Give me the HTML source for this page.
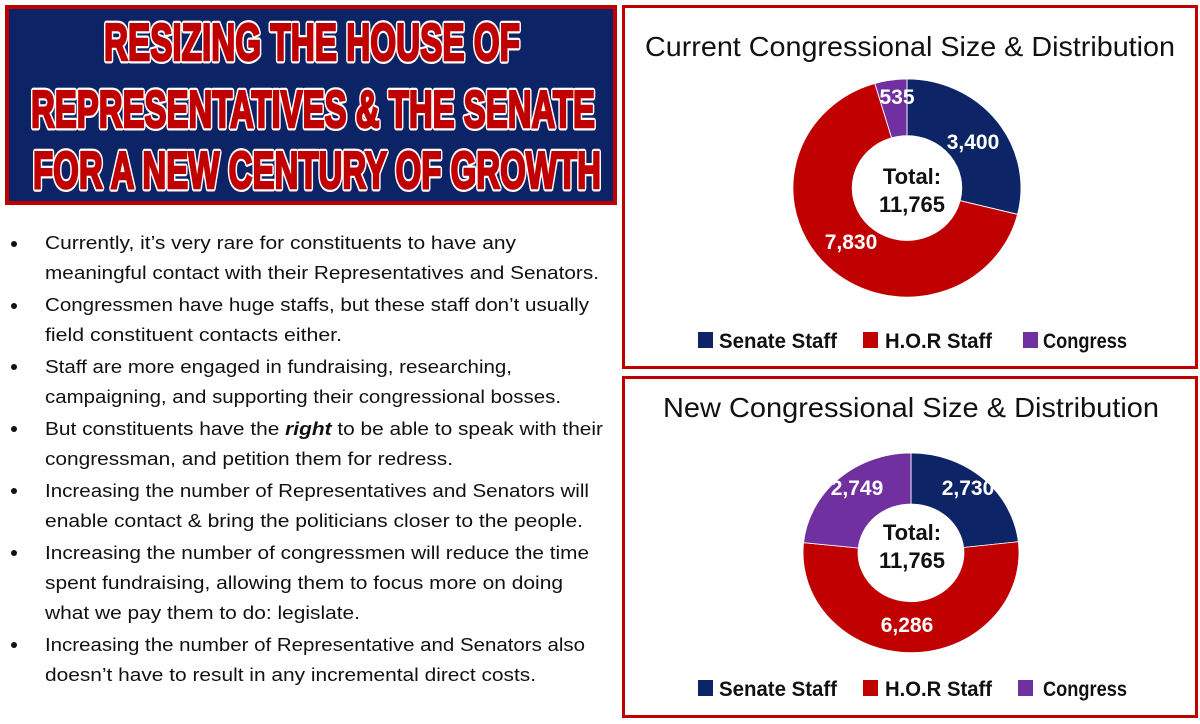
<!DOCTYPE html>
<html><head><meta charset="utf-8"><style>
html,body{margin:0;padding:0;background:#fff;}
svg{display:block;}
.b{font-family:"Liberation Sans",sans-serif;font-size:18px;fill:#111;}
.dl{font-family:"Liberation Sans",sans-serif;font-weight:bold;font-size:21px;fill:#fff;text-anchor:middle;}
.tt{font-family:"Liberation Sans",sans-serif;font-weight:bold;font-size:22px;fill:#111;text-anchor:middle;}
.lg{font-family:"Liberation Sans",sans-serif;font-weight:bold;font-size:21px;fill:#111;}
.ct{font-family:"Liberation Sans",sans-serif;font-size:28px;fill:#111;text-anchor:middle;}
.hw{font-family:"Liberation Sans",sans-serif;font-weight:bold;font-size:52px;fill:#fff;stroke:#fff;stroke-width:7;stroke-linejoin:round;text-anchor:middle;}
.hd{font-family:"Liberation Sans",sans-serif;font-weight:bold;font-size:52px;fill:#c00000;stroke:#c00000;stroke-width:2.5;text-anchor:middle;}
</style></head><body>
<svg width="1200" height="724" viewBox="0 0 1200 724" xmlns="http://www.w3.org/2000/svg">
<rect x="0" y="0" width="1200" height="724" fill="#fff"/>
<!-- banner -->
<rect x="5" y="5" width="612" height="200" fill="#c00000"/>
<rect x="9" y="9" width="604" height="192" fill="#0c2466"/>
<g>
<text class="hw" x="312" y="60" textLength="416" lengthAdjust="spacingAndGlyphs">RESIZING THE HOUSE OF</text>
<text class="hw" x="313" y="127" textLength="564" lengthAdjust="spacingAndGlyphs">REPRESENTATIVES &amp; THE SENATE</text>
<text class="hw" x="317" y="188" textLength="568" lengthAdjust="spacingAndGlyphs">FOR A NEW CENTURY OF GROWTH</text>
<text class="hd" x="312" y="60" textLength="416" lengthAdjust="spacingAndGlyphs">RESIZING THE HOUSE OF</text>
<text class="hd" x="313" y="127" textLength="564" lengthAdjust="spacingAndGlyphs">REPRESENTATIVES &amp; THE SENATE</text>
<text class="hd" x="317" y="188" textLength="568" lengthAdjust="spacingAndGlyphs">FOR A NEW CENTURY OF GROWTH</text>
</g>
<!-- bullets -->
<g fill="#111">
<circle cx="14" cy="244" r="3"/><circle cx="14" cy="306" r="3"/><circle cx="14" cy="367" r="3"/><circle cx="14" cy="429" r="3"/><circle cx="14" cy="491" r="3"/><circle cx="14" cy="553" r="3"/><circle cx="14" cy="645" r="3"/>
</g>
<text class="b" x="45" y="249" textLength="471" lengthAdjust="spacingAndGlyphs">Currently, it’s very rare for constituents to have any</text>
<text class="b" x="45" y="279" textLength="554" lengthAdjust="spacingAndGlyphs">meaningful contact with their Representatives and Senators.</text>
<text class="b" x="45" y="311" textLength="544" lengthAdjust="spacingAndGlyphs">Congressmen have huge staffs, but these staff don’t usually</text>
<text class="b" x="45" y="341" textLength="297" lengthAdjust="spacingAndGlyphs">field constituent contacts either.</text>
<text class="b" x="45" y="373" textLength="467" lengthAdjust="spacingAndGlyphs">Staff are more engaged in fundraising, researching,</text>
<text class="b" x="45" y="403" textLength="516" lengthAdjust="spacingAndGlyphs">campaigning, and supporting their congressional bosses.</text>
<text class="b" x="45" y="435" textLength="558" lengthAdjust="spacingAndGlyphs">But constituents have the <tspan font-weight="bold" font-style="italic">right</tspan> to be able to speak with their</text>
<text class="b" x="45" y="465" textLength="408" lengthAdjust="spacingAndGlyphs">congressman, and petition them for redress.</text>
<text class="b" x="45" y="497" textLength="544" lengthAdjust="spacingAndGlyphs">Increasing the number of Representatives and Senators will</text>
<text class="b" x="45" y="527" textLength="538" lengthAdjust="spacingAndGlyphs">enable contact &amp; bring the politicians closer to the people.</text>
<text class="b" x="45" y="559" textLength="544" lengthAdjust="spacingAndGlyphs">Increasing the number of congressmen will reduce the time</text>
<text class="b" x="45" y="589" textLength="518" lengthAdjust="spacingAndGlyphs">spent fundraising, allowing them to focus more on doing</text>
<text class="b" x="45" y="619" textLength="315" lengthAdjust="spacingAndGlyphs">what we pay them to do: legislate.</text>
<text class="b" x="45" y="651" textLength="540" lengthAdjust="spacingAndGlyphs">Increasing the number of Representative and Senators also</text>
<text class="b" x="45" y="681" textLength="491" lengthAdjust="spacingAndGlyphs">doesn’t have to result in any incremental direct costs.</text>

<!-- panel 1 -->
<rect x="623.5" y="6.5" width="573" height="361" fill="none" stroke="#c00000" stroke-width="3"/>
<text class="ct" x="910" y="56" textLength="530" lengthAdjust="spacingAndGlyphs">Current Congressional Size &amp; Distribution</text>
<g transform="translate(907,188) scale(1.14,1.09)" stroke="#fff" stroke-width="0.8">
<path d="M0,-100 A100,100 0 0 1 97,24.2 L46.6,11.6 A48,48 0 0 0 0,-48Z" fill="#0d2467"/>
<path d="M97,24.2 A100,100 0 1 1 -28.2,-95.9 L-13.5,-46 A48,48 0 1 0 46.6,11.6Z" fill="#c00000"/>
<path d="M-28.2,-95.9 A100,100 0 0 1 0,-100 L0,-48 A48,48 0 0 0 -13.5,-46Z" fill="#7030a0"/>
</g>
<text class="dl" x="897" y="104">535</text>
<text class="dl" x="973" y="149">3,400</text>
<text class="dl" x="851" y="249">7,830</text>
<text class="tt" x="912" y="184">Total:</text>
<text class="tt" x="912" y="212">11,765</text>
<rect x="698" y="332" width="15" height="16" fill="#0d2467"/>
<text class="lg" x="719" y="348" textLength="118" lengthAdjust="spacingAndGlyphs">Senate Staff</text>
<rect x="863" y="332" width="15" height="16" fill="#c00000"/>
<text class="lg" x="885" y="348" textLength="107" lengthAdjust="spacingAndGlyphs">H.O.R Staff</text>
<rect x="1023" y="332" width="15" height="16" fill="#7030a0"/>
<text class="lg" x="1043" y="348" textLength="84" lengthAdjust="spacingAndGlyphs">Congress</text>

<!-- panel 2 -->
<rect x="623.5" y="377.5" width="573" height="339" fill="none" stroke="#c00000" stroke-width="3"/>
<text class="ct" x="911" y="417" textLength="496" lengthAdjust="spacingAndGlyphs">New Congressional Size &amp;  Distribution</text>
<g transform="translate(911,553) scale(1.08,1.0)" stroke="#fff" stroke-width="0.8">
<path d="M0,-100 A100,100 0 0 1 99.4,-11.3 L48.7,-5.5 A49,49 0 0 0 0,-49Z" fill="#0d2467"/>
<path d="M99.4,-11.3 A100,100 0 1 1 -99.5,-10.3 L-48.8,-5 A49,49 0 1 0 48.7,-5.5Z" fill="#c00000"/>
<path d="M-99.5,-10.3 A100,100 0 0 1 0,-100 L0,-49 A49,49 0 0 0 -48.8,-5Z" fill="#7030a0"/>
</g>
<text class="dl" x="857" y="495">2,749</text>
<text class="dl" x="968" y="495">2,730</text>
<text class="dl" x="907" y="632">6,286</text>
<text class="tt" x="912" y="540">Total:</text>
<text class="tt" x="912" y="568">11,765</text>
<rect x="698" y="680" width="15" height="16" fill="#0d2467"/>
<text class="lg" x="719" y="696" textLength="118" lengthAdjust="spacingAndGlyphs">Senate Staff</text>
<rect x="863" y="680" width="15" height="16" fill="#c00000"/>
<text class="lg" x="885" y="696" textLength="107" lengthAdjust="spacingAndGlyphs">H.O.R Staff</text>
<rect x="1018" y="680" width="15" height="16" fill="#7030a0"/>
<text class="lg" x="1043" y="696" textLength="84" lengthAdjust="spacingAndGlyphs">Congress</text>
</svg>
</body></html>
